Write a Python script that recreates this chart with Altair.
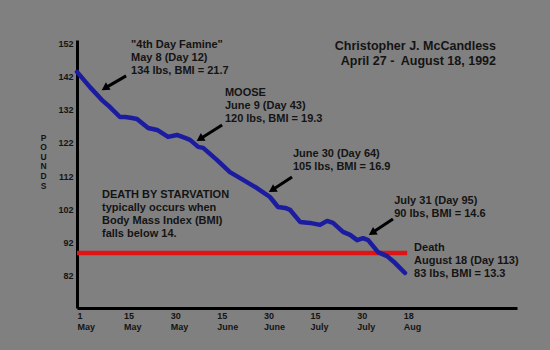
import altair as alt
import pandas as pd

# ---- data -------------------------------------------------------------
# days since May 1, 1992 and weight in pounds
days = [0, 3.9, 7.5, 9.9, 12.9, 14.5, 16.7, 18.3, 21.9, 24.8, 28.3, 31.3, 34.1,
        35.8, 38.6, 40.3, 45.1, 49.2, 52.5, 57.9, 62.1, 64.7, 67.0, 68.6, 71.8,
        75.0, 78.2, 80.5, 82.4, 85.6, 87.9, 90.2, 92.6, 94.7, 98.7, 102.4, 105.7, 109.7]
lbs = [143.4, 138.8, 134.9, 132.8, 129.8, 129.8, 129.5, 129.2, 126.5, 125.9, 123.8,
       124.4, 123.5, 122.9, 120.8, 120.5, 116.8, 113.2, 111.4, 108.4, 105.7, 102.7,
       102.4, 101.8, 98.2, 97.9, 97.3, 98.5, 97.9, 95.2, 94.3, 92.7, 93.3, 92.7,
       89.1, 87.9, 85.8, 82.8]

# x-axis ticks (evenly spaced on the original chart although not evenly spaced in time)
tick_days = [0, 14, 29, 45, 60, 75, 90, 109]
tick_day_labels = ["1", "15", "30", "15", "30", "15", "30", "18"]
tick_month_labels = ["May", "May", "May", "June", "June", "July", "July", "Aug"]
y_ticks = [82, 92, 102, 112, 122, 132, 142, 152]

# starvation threshold line
threshold_lbs = 88.8
threshold_start, threshold_end = 0, 110.6

# annotations
ann_text = [
    '"4th Day Famine"\nMay 8 (Day 12)\n134 lbs, BMI = 21.7',
    'MOOSE\nJune 9 (Day 43)\n120 lbs, BMI = 19.3',
    'June 30 (Day 64)\n105 lbs, BMI = 16.9',
    'July 31 (Day 95)\n90 lbs, BMI = 14.6',
    'Death\nAugust 18 (Day 113)\n83 lbs, BMI = 13.3',
    'DEATH BY STARVATION\ntypically occurs when\nBody Mass Index (BMI)\nfalls below 14.',
]
ann_day = [16.4, 47.6, 69.5, 105.3, 113.4, 7.5]
ann_lbs = [153.3, 138.8, 120.5, 106.3, 92.1, 108.1]

title_text = "Christopher J. McCandless\nApril 27 -\u00a0 August 18, 1992"
title_day, title_lbs = 146.8, 153.0

# arrows: tail -> head
arrow_tail_day = [14.8, 46.7, 69.2, 104.8]
arrow_tail_lbs = [142.2, 127.4, 111.7, 99.1]
arrow_head_day = [8.4, 39.2, 62.8, 96.3]
arrow_head_lbs = [138.5, 123.2, 107.8, 94.9]

# ---- helpers ------------------------------------------------------------
def pos_expr(field):
    """piecewise map of day -> evenly spaced tick position"""
    d = tick_days
    n = len(d)
    e = f"{n-2} + (datum.{field} - {d[n-2]}) / {d[n-1]-d[n-2]}"
    for k in reversed(range(n - 2)):
        e = (f"datum.{field} <= {d[k+1]} ? {k} + (datum.{field} - {d[k]}) / "
             f"{d[k+1]-d[k]} : ({e})")
    return e

BG = "#808080"
INK = "#141414"
FONT = "Liberation Sans"

xscale = alt.Scale(domain=[0, 9.44], nice=False, zero=False)
yscale = alt.Scale(domain=[72.26, 153.0], nice=False, zero=False)

label_js = "[" + ",".join(f"['{a}','{b}']" for a, b in zip(tick_day_labels, tick_month_labels)) + "]"

x_axis = alt.Axis(values=list(range(len(tick_days))), labelExpr=f"{label_js}[datum.value]",
                  title=None, ticks=False, grid=False, domainColor="black", domainWidth=3,
                  labelAlign="left", labelBaseline="top", labelFontSize=9,
                  labelFontWeight="bold", labelColor=INK, labelLineHeight=11,
                  labelPadding=3, labelFont=FONT)
y_axis = alt.Axis(values=y_ticks, title=list("POUNDS"), titleAngle=0, titleAlign="center",
                  titleBaseline="top", titleX=-34, titleY=93, titleFontSize=8.5,
                  titleFontWeight="bold", titleColor=INK, titleLineHeight=9.6, titleFont=FONT,
                  ticks=False, grid=False, domainColor="black", domainWidth=3,
                  labelFontSize=9, labelFontWeight="bold", labelColor=INK,
                  labelPadding=4, labelFont=FONT)

def X(field):
    return alt.X(field, type="quantitative", scale=xscale, axis=x_axis)

def Y(field):
    return alt.Y(field, type="quantitative", scale=yscale, axis=y_axis)

# ---- layers -------------------------------------------------------------
weight_df = pd.DataFrame({"day": days, "lbs": lbs})
line = alt.Chart(weight_df).transform_calculate(pos=pos_expr("day")).mark_line(
    color="#1c1ca0", strokeWidth=4.5, strokeCap="round", strokeJoin="round"
).encode(x=X("pos"), y=Y("lbs"), order="day:Q")

thr_df = pd.DataFrame({"d1": [threshold_start], "d2": [threshold_end], "lbs": [threshold_lbs]})
threshold = alt.Chart(thr_df).transform_calculate(
    pos=pos_expr("d1"), p2=pos_expr("d2")
).mark_rule(color="#e01414", strokeWidth=4.5).encode(
    x=X("pos"), x2="p2:Q", y=Y("lbs"),
)

arr_df = pd.DataFrame({"td": arrow_tail_day, "lbs": arrow_tail_lbs,
                       "hd": arrow_head_day, "hl": arrow_head_lbs})
shafts = alt.Chart(arr_df).transform_calculate(
    pos=pos_expr("td"), hp=pos_expr("hd")
).mark_rule(color="black", strokeWidth=3).encode(
    x=X("pos"), x2="hp:Q", y=Y("lbs"), y2="hl:Q",
)
heads = alt.Chart(arr_df).transform_calculate(pos=pos_expr("hd")).mark_point(
    shape="triangle-up", filled=True, color="black", opacity=1, size=80, angle=238,
    strokeWidth=0
).encode(x=X("pos"), y=Y("hl"))

ann_df = pd.DataFrame({"text": ann_text, "day": ann_day, "lbs": ann_lbs})
notes = alt.Chart(ann_df).transform_calculate(pos=pos_expr("day")).mark_text(
    align="left", baseline="top", lineBreak="\n", lineHeight=13, fontSize=11,
    fontWeight="bold", color=INK, font=FONT
).encode(x=X("pos"), y=Y("lbs"), text="text:N")

title_df = pd.DataFrame({"text": [title_text], "day": [title_day], "lbs": [title_lbs]})
title = alt.Chart(title_df).transform_calculate(pos=pos_expr("day")).mark_text(
    align="right", baseline="top", lineBreak="\n", lineHeight=15, fontSize=12.5,
    fontWeight="bold", color=INK, font=FONT
).encode(x=X("pos"), y=Y("lbs"), text="text:N")

chart = alt.layer(threshold, line, shafts, heads, notes, title).properties(
    width=440, height=268,
    autosize=alt.AutoSizeParams(type="none"),
    padding={"left": 77, "top": 40, "right": 33, "bottom": 42},
    background=BG,
).configure_view(stroke=None)

chart.save("out.html", embed_options={"renderer": "svg", "actions": False})
